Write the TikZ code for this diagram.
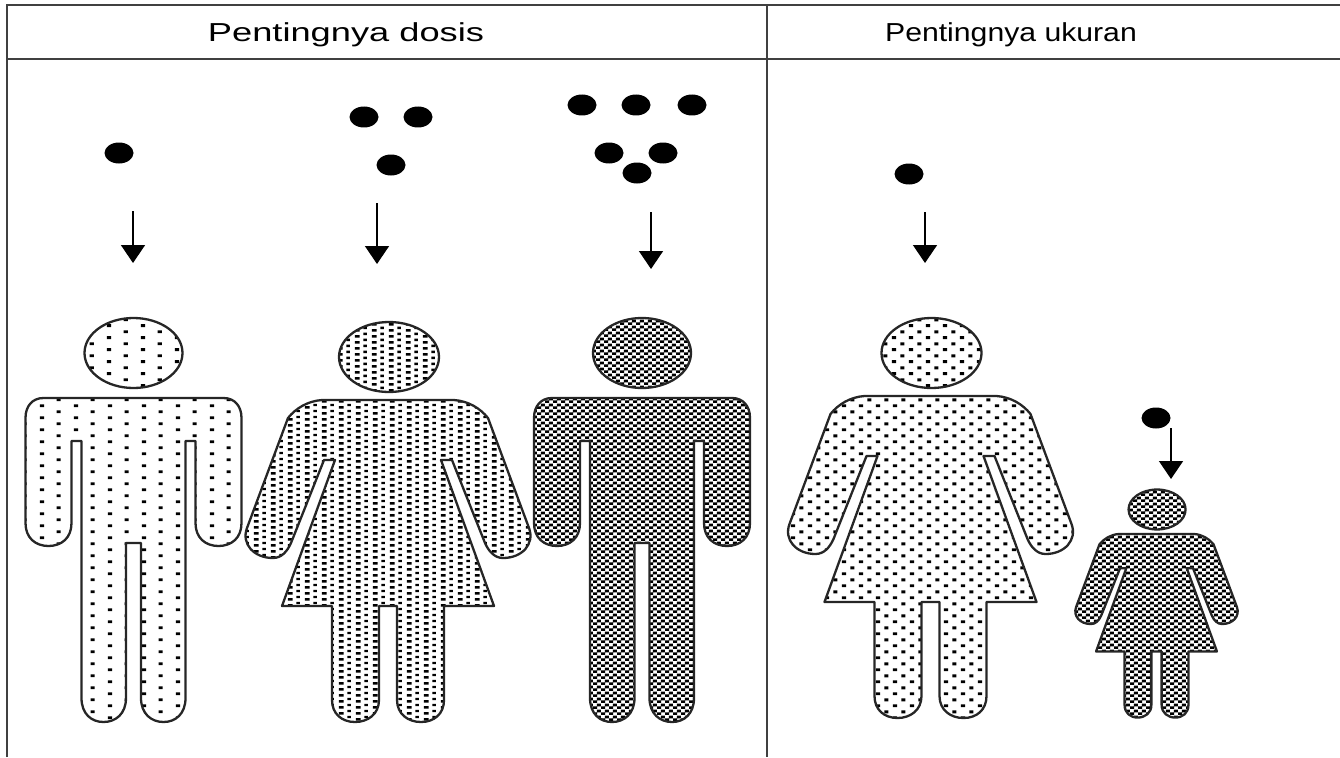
\documentclass[tikz,border=0pt]{standalone}
\usepackage{fontspec}
\usepackage{tikz}
\usetikzlibrary{positioning,arrows.meta,calc,patterns,shapes.geometric}
\setmainfont{Liberation Sans}

\pgfdeclarepatternformonly{dotsparse}{\pgfpointorigin}{\pgfpoint{33.6pt}{12.3pt}}{\pgfpoint{33.6pt}{12.3pt}}{
  \pgfpathrectangle{\pgfpoint{6pt}{2pt}}{\pgfpoint{4.2pt}{3pt}}
  \pgfpathrectangle{\pgfpoint{22.8pt}{8.2pt}}{\pgfpoint{4.2pt}{3pt}}
  \pgfusepath{fill}}
\pgfdeclarepatternformonly{dotmiddle}{\pgfpointorigin}{\pgfpoint{16.8pt}{12.3pt}}{\pgfpoint{16.8pt}{12.3pt}}{
  \pgfpathrectangle{\pgfpoint{2pt}{2pt}}{\pgfpoint{4.2pt}{3pt}}
  \pgfpathrectangle{\pgfpoint{10.4pt}{8.1pt}}{\pgfpoint{4.2pt}{3pt}}
  \pgfusepath{fill}}
\pgfdeclarepatternformonly{dotdense}{\pgfpointorigin}{\pgfpoint{16.8pt}{6.1pt}}{\pgfpoint{16.8pt}{6.1pt}}{
  \pgfpathrectangle{\pgfpoint{2pt}{0.4pt}}{\pgfpoint{4.6pt}{3pt}}
  \pgfpathrectangle{\pgfpoint{10.4pt}{3.4pt}}{\pgfpoint{3.6pt}{2.6pt}}
  \pgfusepath{fill}}
\pgfdeclarepatternformonly{dotcheck}{\pgfpointorigin}{\pgfpoint{8.4pt}{6.1pt}}{\pgfpoint{8.4pt}{6.1pt}}{
  \pgfpathrectangle{\pgfpoint{0pt}{0pt}}{\pgfpoint{4.3pt}{3.1pt}}
  \pgfpathrectangle{\pgfpoint{4.2pt}{3.05pt}}{\pgfpoint{4.3pt}{3.1pt}}
  \pgfusepath{fill}}

\tikzset{
  figline/.style={draw=black!85,line width=2.3pt,line join=round},
  frameline/.style={draw=black!75,line width=2pt},
  headtext/.style={font=\fontsize{26}{30}\selectfont,anchor=base},
  dosedot/.style={ellipse,fill=black,inner sep=0pt,minimum width=29pt,minimum height=21pt},
  dosearrow/.style={draw=black,line width=1.6pt,-{Triangle[width=24pt,length=18pt]}}
}

% man: centre of the shoulders at (#1,#2), shade #3
\newcommand{\manfig}[3]{
\begin{scope}[shift={(#1,#2)}]
\draw[figline,pattern=#3] (0,-45) ellipse[x radius=49,y radius=35];
\draw[figline,pattern=#3] (-90,0)--(90,0)
  .. controls (101,0) and (108,8) .. (108,20)--(108,125)
  .. controls (108,140) and (98,148) .. (85,148)
  .. controls (72,148) and (62,140) .. (62,125)--(62,43)--(52,43)--(52,300)
  .. controls (52,316) and (42,324) .. (30,324)
  .. controls (18,324) and (7.5,316) .. (7.5,300)--(7.5,145)--(-7.5,145)--(-7.5,300)
  .. controls (-7.5,316) and (-18,324) .. (-30,324)
  .. controls (-42,324) and (-52,316) .. (-52,300)--(-52,43)--(-62,43)--(-62,125)
  .. controls (-62,140) and (-72,148) .. (-85,148)
  .. controls (-98,148) and (-108,140) .. (-108,125)--(-108,20)
  .. controls (-108,8) and (-101,0) .. (-90,0)--cycle;
\end{scope}
}

% woman: centre of the shoulders at (#1,#2), size #3, shade #4
\newcommand{\womanfig}[4]{
\begin{scope}[shift={(#1,#2)},scale=#3]
\draw[figline,pattern=#4] (1,-43) ellipse[x radius=50,y radius=35];
\draw[figline,pattern=#4] (-66,0)--(66,0)
  .. controls (80,1) and (92,8) .. (100,18)--(141,128)
  .. controls (147,144) and (134,158) .. (115,158)
  .. controls (107,158) and (101,152) .. (97,143)--(64,60)--(53,60)--(106,206)--(56,206)--(56,300)
  .. controls (56,314) and (46,322) .. (33,322)
  .. controls (20,322) and (9,314) .. (9,300)--(9,206)--(-9,206)--(-9,300)
  .. controls (-9,314) and (-20,322) .. (-33,322)
  .. controls (-46,322) and (-56,314) .. (-56,300)--(-56,206)--(-106,206)--(-53,60)--(-64,60)--(-97,143)
  .. controls (-101,152) and (-107,158) .. (-115,158)
  .. controls (-134,158) and (-147,144) .. (-141,128)--(-100,18)
  .. controls (-92,8) and (-80,1) .. (-66,0)--cycle;
\end{scope}
}

\begin{document}
\begin{tikzpicture}[x=1pt,y=-1pt]
\useasboundingbox (0,0) rectangle (1340,757);
% frame
\draw[frameline] (6.5,757)--(6.5,5.5)--(1340,5.5);
\draw[frameline] (6.5,59)--(1340,59);
\draw[frameline] (767,5.5)--(767,757);
\node[headtext,xscale=1.394] (dosistitle) at (346,41.7){Pentingnya dosis};
\node[headtext,xscale=1.161] (ukurantitle) at (1011,41.7){Pentingnya ukuran};
% doses
\foreach \n/\x/\y in {a/119/153,b/364/117,c/418/117,d/391/165,e/582/105,f/636/105,g/692/105,h/609/153,i/663/153,j/637/173,k/909/174,l/1156/418}{
  \node[dosedot] (dose\n) at (\x,\y){};
}
\foreach \n/\x/\a/\b in {a/133/211/263,b/377/203/264,c/651/212/269,d/925/212/263,e/1171/428/479}{
  \coordinate (start\n) at (\x,\a);
  \coordinate (end\n) at (\x,\b);
  \draw[dosearrow] (start\n)--(end\n);
}
% figures
\manfig{133.5}{398}{dotsparse}
\womanfig{388}{400}{1}{dotdense}
\manfig{642}{398}{dotcheck}
\womanfig{930.5}{396}{1}{dotmiddle}
\womanfig{1156.5}{534}{0.57}{dotcheck}
\end{tikzpicture}
\end{document}
